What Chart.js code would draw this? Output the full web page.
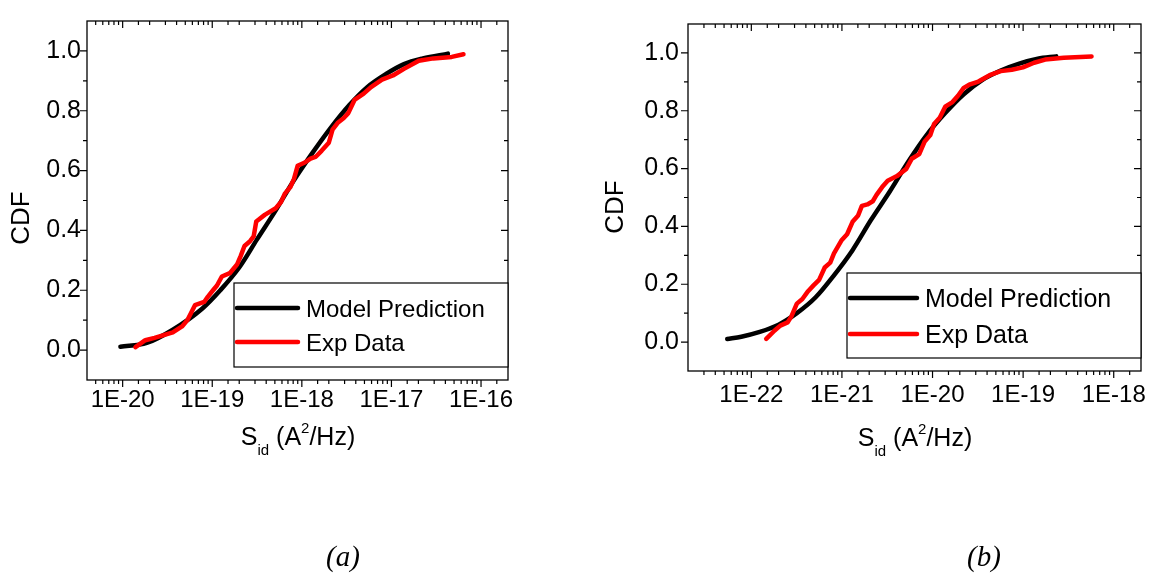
<!DOCTYPE html>
<html>
<head>
<meta charset="utf-8">
<script src="https://cdn.jsdelivr.net/npm/chart.js@4.4.1/dist/chart.umd.min.js"></script>
<style>
  html, body { margin: 0; padding: 0; background: #fff; }
  #wrap { position: relative; width: 1154px; height: 577px; }
  canvas { position: absolute; top: 0; }
</style>
</head>
<body>
<div id="wrap">
  <canvas id="cdfA" width="577" height="577" style="left:0"></canvas>
  <canvas id="cdfB" width="577" height="577" style="left:577px"></canvas>
</div>
<script>
// (a) noise PSD, model curve and measured points
var modelSA = [9.44e-21, 1.86e-20, 3.63e-20, 7.76e-20, 1.23e-19, 2.0e-19, 3.16e-19, 5.13e-19, 8.13e-19,
  1.32e-18, 2.09e-18, 3.39e-18, 5.37e-18, 8.71e-18, 1.38e-17, 2.24e-17, 4.27e-17];
var modelCdfA = [0.011, 0.024, 0.068, 0.139, 0.200, 0.276, 0.370, 0.468, 0.567,
  0.660, 0.742, 0.819, 0.879, 0.923, 0.956, 0.975, 0.991];
var expSA = [1.39e-20, 1.79e-20, 2.27e-20, 3.63e-20, 4.60e-20, 5.31e-20, 6.41e-20, 8.13e-20, 8.91e-20,
  1.02e-19, 1.13e-19, 1.28e-19, 1.57e-19, 1.90e-19, 2.08e-19, 2.29e-19, 2.64e-19, 2.90e-19, 3.10e-19,
  3.85e-19, 5.11e-19, 5.89e-19, 6.46e-19, 7.45e-19, 8.17e-19, 8.97e-19, 1.08e-18, 1.25e-18, 1.44e-18,
  1.66e-18, 2.0e-18, 2.20e-18, 2.54e-18, 2.92e-18, 3.30e-18, 3.87e-18, 4.90e-18, 5.92e-18, 7.85e-18,
  1.04e-17, 1.38e-17, 2.02e-17, 2.94e-17, 4.71e-17, 6.37e-17];
var expCdfA = [0.010, 0.033, 0.041, 0.059, 0.079, 0.101, 0.150, 0.161, 0.178,
  0.200, 0.216, 0.246, 0.257, 0.287, 0.315, 0.348, 0.364, 0.380, 0.430,
  0.452, 0.474, 0.496, 0.523, 0.545, 0.572, 0.616, 0.627, 0.640, 0.647,
  0.666, 0.693, 0.737, 0.761, 0.775, 0.792, 0.836, 0.857, 0.879, 0.904,
  0.918, 0.940, 0.967, 0.975, 0.980, 0.989];

// (b)
var modelSB = [5.42e-23, 7.76e-23, 1.24e-22, 2.0e-22, 3.18e-22, 5.13e-22, 8.17e-22, 1.31e-21, 2.09e-21,
  3.36e-21, 5.37e-21, 8.61e-21, 1.38e-20, 2.21e-20, 3.53e-20, 5.66e-20, 9.06e-20, 1.45e-19, 2.32e-19];
var modelCdfB = [0.011, 0.0185, 0.035, 0.060, 0.100, 0.155, 0.231, 0.318, 0.422,
  0.520, 0.623, 0.716, 0.792, 0.857, 0.906, 0.939, 0.963, 0.980, 0.988];
var expSB = [1.46e-22, 1.81e-22, 2.09e-22, 2.51e-22, 2.77e-22, 3.18e-22, 3.66e-22, 4.23e-22, 4.86e-22,
  5.60e-22, 6.46e-22, 7.43e-22, 8.17e-22, 9.86e-22, 1.14e-21, 1.31e-21, 1.51e-21, 1.66e-21, 1.91e-21,
  2.19e-21, 2.41e-21, 2.78e-21, 3.20e-21, 4.05e-21, 5.13e-21, 5.90e-21, 7.13e-21, 8.20e-21, 9.46e-21,
  1.04e-20, 1.20e-20, 1.38e-20, 1.66e-20, 1.91e-20, 2.21e-20, 2.54e-20, 3.21e-20, 4.27e-20, 5.66e-20,
  7.50e-20, 9.95e-20, 1.32e-19, 1.75e-19, 2.81e-19, 5.69e-19];
var expCdfB = [0.011, 0.040, 0.057, 0.068, 0.089, 0.133, 0.149, 0.176, 0.196,
  0.215, 0.258, 0.275, 0.307, 0.351, 0.373, 0.416, 0.438, 0.471, 0.476,
  0.487, 0.509, 0.536, 0.558, 0.574, 0.599, 0.634, 0.650, 0.694, 0.716,
  0.754, 0.776, 0.814, 0.830, 0.852, 0.879, 0.890, 0.901, 0.923, 0.937,
  0.942, 0.950, 0.966, 0.977, 0.983, 0.988];

var seriesNames = ['Model Prediction', 'Exp Data'];
var yTickLabels = ['0.0', '0.2', '0.4', '0.6', '0.8', '1.0'];

var SANS = '"Liberation Sans", Arial, sans-serif';

function pairs(xs, ys) {
  return xs.map(function (x, i) { return { x: x, y: ys[i] }; });
}

function isDecade(v) {
  var e = Math.log10(v);
  return Math.abs(e - Math.round(e)) < 1e-6;
}

// frame, in/out ticks, legend box, axis titles and caption
var decorations = {
  id: 'decorations',
  afterDraw: function (chart) {
    var o = chart.options.plugins.decorations;
    var ctx = chart.ctx, a = chart.chartArea;
    var xs = chart.scales.x, ys = chart.scales.y;
    ctx.save();
    ctx.strokeStyle = '#000';
    ctx.lineWidth = 1.3;
    ctx.strokeRect(a.left, a.top, a.right - a.left, a.bottom - a.top);

    ctx.lineWidth = 1.2;
    ctx.beginPath();
    xs.ticks.forEach(function (t) {
      var px = xs.getPixelForValue(t.value);
      if (px < a.left + 1 || px > a.right - 1) return;
      var len = isDecade(t.value) ? 7 : 4;
      ctx.moveTo(px, a.bottom); ctx.lineTo(px, a.bottom + len);
      ctx.moveTo(px, a.top); ctx.lineTo(px, a.top + len);
    });
    ys.ticks.forEach(function (t) {
      var k = Math.round(t.value * 10);
      if (k < 0 || k > 10) return;
      var py = ys.getPixelForValue(t.value);
      var len = k % 2 === 0 ? 7 : 4;
      ctx.moveTo(a.left, py); ctx.lineTo(a.left - len, py);
      ctx.moveTo(a.right, py); ctx.lineTo(a.right - len, py);
    });
    ctx.stroke();

    // legend
    var lg = o.legend;
    ctx.fillStyle = '#fff';
    ctx.fillRect(lg.left, lg.top, a.right - lg.left, lg.bottom - lg.top);
    ctx.lineWidth = 1.2;
    ctx.strokeRect(lg.left, lg.top, a.right - lg.left, lg.bottom - lg.top);
    ctx.font = lg.size + 'px ' + SANS;
    ctx.textBaseline = 'alphabetic';
    ctx.textAlign = 'left';
    chart.data.datasets.forEach(function (ds, i) {
      var y = lg.rows[i];
      ctx.strokeStyle = ds.borderColor;
      ctx.lineWidth = 4.5;
      ctx.lineCap = 'round';
      ctx.beginPath();
      ctx.moveTo(lg.left + 3, y);
      ctx.lineTo(lg.left + lg.lineLen, y);
      ctx.stroke();
      ctx.fillStyle = '#000';
      ctx.fillText(ds.label, lg.left + lg.textX, y + lg.baseline);
    });

    // y title
    ctx.save();
    ctx.translate(o.yTitle.x, o.yTitle.y);
    ctx.rotate(-Math.PI / 2);
    ctx.font = o.yTitle.size + 'px ' + SANS;
    ctx.textAlign = 'center';
    ctx.textBaseline = 'middle';
    ctx.fillStyle = '#000';
    ctx.fillText('CDF', 0, 0);
    ctx.restore();

    // x title: S_id (A^2/Hz)
    var big = '25px ' + SANS, small = '15px ' + SANS;
    var parts = [
      { t: 'S', f: big, dy: 0 },
      { t: 'id', f: small, dy: 10 },
      { t: ' (A', f: big, dy: 0 },
      { t: '2', f: small, dy: -12 },
      { t: '/Hz)', f: big, dy: 0 }
    ];
    var w = 0;
    parts.forEach(function (p) { ctx.font = p.f; p.w = ctx.measureText(p.t).width; w += p.w; });
    var x = o.xTitle.x - w / 2;
    ctx.fillStyle = '#000';
    ctx.textAlign = 'left';
    ctx.textBaseline = 'alphabetic';
    parts.forEach(function (p) {
      ctx.font = p.f;
      ctx.fillText(p.t, x, o.xTitle.y + p.dy);
      x += p.w;
    });

    // caption
    ctx.font = 'italic 29px "Liberation Serif", "Times New Roman", serif';
    ctx.textAlign = 'center';
    ctx.fillText(o.caption.text, o.caption.x, o.caption.y);
    ctx.restore();
  }
};

function makeChart(id, sModel, cModel, sExp, cExp, xMin, xMax, box, deco) {
  var yW = box.yW, xH = 60;
  return new Chart(document.getElementById(id), {
    type: 'line',
    data: {
      datasets: [
        { label: seriesNames[0], data: pairs(sModel, cModel), borderColor: '#000000',
          borderWidth: 4.5, pointRadius: 0, cubicInterpolationMode: 'monotone',
          borderCapStyle: 'round', borderJoinStyle: 'round', fill: false, order: 1 },
        { label: seriesNames[1], data: pairs(sExp, cExp), borderColor: '#ff0000',
          borderWidth: 4.5, pointRadius: 0, tension: 0,
          borderCapStyle: 'round', borderJoinStyle: 'round', fill: false, order: 0 }
      ]
    },
    options: {
      responsive: false,
      animation: false,
      layout: {
        padding: { left: box.left - yW, right: 577 - box.right, top: box.top, bottom: 577 - box.bottom - xH }
      },
      plugins: {
        legend: { display: false },
        tooltip: { enabled: false },
        decorations: deco
      },
      scales: {
        x: {
          type: 'logarithmic', min: xMin, max: xMax,
          grid: { display: false, drawTicks: false },
          border: { display: false },
          ticks: {
            autoSkip: false, maxRotation: 0, minRotation: 0, padding: box.xPad, color: '#000',
            font: { family: SANS, size: 24 },
            callback: function (v) {
              return isDecade(v) ? '1E' + Math.round(Math.log10(v)) : '';
            }
          },
          afterFit: function (s) { s.height = xH; }
        },
        y: {
          min: -0.1, max: 1.1,
          grid: { display: false, drawTicks: false },
          border: { display: false },
          ticks: {
            autoSkip: false, stepSize: 0.1, padding: box.yPad, color: '#000',
            font: { family: SANS, size: 25 },
            callback: function (v) {
              var k = Math.round(v * 10);
              return (k >= 0 && k <= 10 && k % 2 === 0) ? yTickLabels[k / 2] : '';
            }
          },
          afterFit: function (s) { s.width = yW; }
        }
      }
    },
    plugins: [decorations]
  });
}

makeChart('cdfA', modelSA, modelCdfA, expSA, expCdfA, 4e-21, 2e-16,
  { left: 87, right: 508, top: 15, bottom: 380, yW: 70, xPad: 6, yPad: 6 },
  {
    legend: { left: 234, top: 283, bottom: 367, lineLen: 64, textX: 72,
      rows: [308, 342], baseline: 9, size: 24 },
    yTitle: { x: 22, y: 218, size: 26 },
    xTitle: { x: 298, y: 445 },
    caption: { text: '(a)', x: 343, y: 566 }
  });

makeChart('cdfB', modelSB, modelCdfB, expSB, expCdfB, 2e-23, 2e-18,
  { left: 111, right: 564, top: 5, bottom: 371, yW: 90, xPad: 10, yPad: 9 },
  {
    legend: { left: 270, top: 273, bottom: 358, lineLen: 70, textX: 78,
      rows: [298, 334], baseline: 9, size: 25 },
    yTitle: { x: 39, y: 207, size: 26 },
    xTitle: { x: 338, y: 446 },
    caption: { text: '(b)', x: 407, y: 566 }
  });
</script>
</body>
</html>
